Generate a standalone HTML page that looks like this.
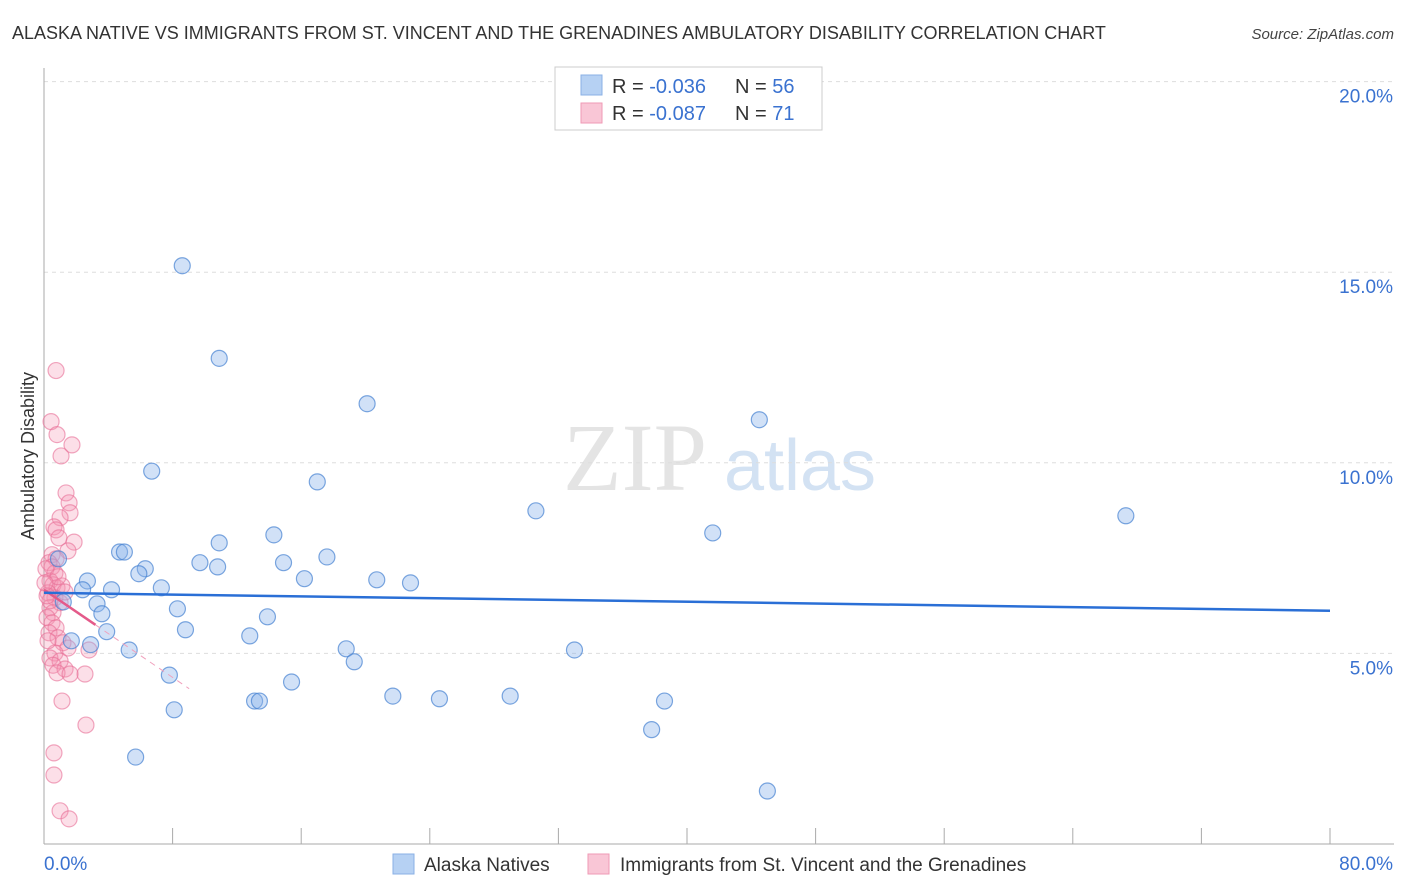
<!DOCTYPE html>
<html><head><meta charset="utf-8"><style>
body{margin:0;background:#fff;font-family:"Liberation Sans",sans-serif;}
svg{display:block}
</style></head><body>
<svg id="chart" width="1406" height="892" xmlns="http://www.w3.org/2000/svg">
<text x="12" y="39" font-size="18" fill="#333">ALASKA NATIVE VS IMMIGRANTS FROM ST. VINCENT AND THE GRENADINES AMBULATORY DISABILITY CORRELATION CHART</text>
<text x="1394" y="39" font-size="15" fill="#444" text-anchor="end" font-style="italic">Source: ZipAtlas.com</text>
<g>
<text x="635" y="490" font-size="96" fill="#e4e4e4" text-anchor="middle" font-family="Liberation Serif,serif">ZIP</text>
<text x="800" y="490" font-size="72" fill="#d3e2f3" text-anchor="middle">atlas</text>
</g>
<g id="grid"></g>
<g id="axes"></g>
<g id="marks"></g>
<text transform="translate(34,456) rotate(-90)" font-size="18" fill="#333" text-anchor="middle">Ambulatory Disability</text>
<g>
<rect x="555" y="67" width="267" height="63" fill="#fff" stroke="#ccc"/>
<rect x="581" y="75" width="21" height="20" fill="#b6d1f3" stroke="#8ab0e6"/>
<rect x="581" y="103" width="21" height="20" fill="#f9c6d6" stroke="#ef9ab5"/>
<text x="612" y="93" font-size="20" fill="#333">R = <tspan fill="#3a72d0">-0.036</tspan><tspan x="735">N = </tspan><tspan fill="#3a72d0">56</tspan></text>
<text x="612" y="120" font-size="20" fill="#333">R = <tspan fill="#3a72d0">-0.087</tspan><tspan x="735">N = </tspan><tspan fill="#3a72d0"> 71</tspan></text>
</g>
<g>
<rect x="393" y="854" width="21" height="20" fill="#b6d1f3" stroke="#8ab0e6"/>
<text x="424" y="871" font-size="19" fill="#333">Alaska Natives</text>
<rect x="588" y="854" width="21" height="20" fill="#f9c6d6" stroke="#ef9ab5"/>
<text x="620" y="871" font-size="19" fill="#333">Immigrants from St. Vincent and the Grenadines</text>
</g>
</svg>
<script>
const yTicks=[5,10,15,20];
const yTickLabels=["5.0%","10.0%","15.0%","20.0%"];
const xTickLabels=["0.0%","80.0%"];
const blueX=[8.6,10.9,20.1,44.5,6.7,17.0,30.6,67.3,41.6,14.3,10.9,4.7,5.0,17.6,0.9,6.3,9.7,14.9,10.8,5.9,16.2,20.7,22.8,2.7,7.3,2.4,4.2,1.2,3.3,8.3,3.6,13.9,8.8,3.9,12.8,1.7,2.9,5.3,18.8,33.0,19.3,7.8,15.4,21.7,29.0,24.6,38.6,13.1,13.4,8.1,37.8,5.7,45.0];
const blueY=[15.17,12.74,11.55,11.13,9.78,9.50,8.74,8.61,8.16,8.11,7.90,7.66,7.66,7.53,7.48,7.22,7.38,7.38,7.27,7.09,6.96,6.93,6.85,6.90,6.72,6.67,6.67,6.35,6.30,6.17,6.04,5.96,5.62,5.57,5.46,5.33,5.23,5.09,5.12,5.09,4.78,4.43,4.25,3.88,3.88,3.81,3.75,3.75,3.75,3.52,3.00,2.28,1.39];
const pinkX=[0.75,0.44,0.81,1.06,1.74,1.37,1.56,1.62,1.0,0.62,0.75,0.93,1.87,1.49,0.5,0.75,0.31,0.5,0.68,0.37,0.56,0.81,0.25,0.68,1.0,0.37,0.56,0.19,0.5,0.75,0.31,0.87,1.18,1.49,0.68,0.37,1.0,0.56,1.31,0.81,2.55,1.62,2.8,1.12,2.61,0.62,0.62,1.0,1.56,0.12,0.37,0.19,1.12,1.31,0.87,0.06,0.25];
const pinkY=[12.42,11.08,10.74,10.18,10.47,9.21,8.95,8.69,8.56,8.32,8.24,8.03,7.92,7.69,7.59,7.48,7.38,7.27,7.11,6.90,6.80,6.72,6.59,6.46,6.33,6.20,6.07,5.94,5.80,5.67,5.54,5.41,5.28,5.14,5.01,4.88,4.80,4.69,4.59,4.49,4.46,4.46,5.09,3.75,3.12,2.39,1.81,0.87,0.66,7.22,6.38,6.51,6.77,6.61,7.01,6.85,5.33];
const blueTrend=[6.59,6.12];
const pinkTrend=[6.67,5.75];
const pinkDashEndX=9.03;

const X0=44,X1=1330,Y0=844,PX=190.6/5;
const sx=v=>X0+(X1-X0)*v/80, sy=v=>Y0-v*PX;
const NS="http://www.w3.org/2000/svg";
function mk(parent,tag,attrs){const e=document.createElementNS(NS,tag);for(const k in attrs)e.setAttribute(k,attrs[k]);document.getElementById(parent).appendChild(e);return e;}
yTicks.forEach((t,i)=>{
 const g=mk('grid','line',{x1:X0,x2:1394,y1:sy(t),y2:sy(t),stroke:'#ddd','stroke-dasharray':'4,4'});
 
 
 const l=mk('axes','text',{x:1393,y:sy(t)+21,'font-size':19,fill:'#3a72d0','text-anchor':'end'});
 l.textContent=yTickLabels[i];
 
 
});
const ax=mk('axes','line',{x1:X0,x2:X0,y1:68,y2:Y0,stroke:'#aaa'});


const bx=mk('axes','line',{x1:X0,x2:1394,y1:Y0,y2:Y0,stroke:'#aaa'});


for(let i=0;i<=10;i++){
 const t=mk('axes','line',{x1:sx(i*8),x2:sx(i*8),y1:828,y2:Y0,stroke:'#aaa'});
 
 
}
[[0,'start',X0],[80,'end',1393]].forEach((d,i)=>{
 const l=mk('axes','text',{x:d[2],y:870,'font-size':19,fill:'#3a72d0','text-anchor':d[1]});
 l.textContent=xTickLabels[i];
 
 
});
pinkX.forEach((v,i)=>{
 const c=mk('marks','circle',{cx:sx(v),cy:sy(pinkY[i]),r:8,fill:'rgba(244,150,180,0.3)',stroke:'rgba(232,110,150,0.6)','stroke-width':1.2});
 
 
});
blueX.forEach((v,i)=>{
 const c=mk('marks','circle',{cx:sx(v),cy:sy(blueY[i]),r:8,fill:'rgba(140,180,235,0.4)',stroke:'rgba(70,130,210,0.7)','stroke-width':1.2});
 
 
});
const slope=(pinkTrend[1]-pinkTrend[0])/3.2;
const pd=mk('marks','line',{x1:sx(3.2),y1:sy(pinkTrend[1]),x2:sx(pinkDashEndX),y2:sy(pinkTrend[0]+slope*pinkDashEndX),stroke:'#f0a0bc','stroke-dasharray':'6,5','stroke-width':1});


const pt=mk('marks','line',{x1:sx(0),y1:sy(pinkTrend[0]),x2:sx(3.2),y2:sy(pinkTrend[1]),stroke:'#e45a8a','stroke-width':2.5});


const bt=mk('marks','line',{x1:sx(0),y1:sy(blueTrend[0]),x2:sx(80),y2:sy(blueTrend[1]),stroke:'#2a6fd6','stroke-width':2.5});


</script>
</body></html>
